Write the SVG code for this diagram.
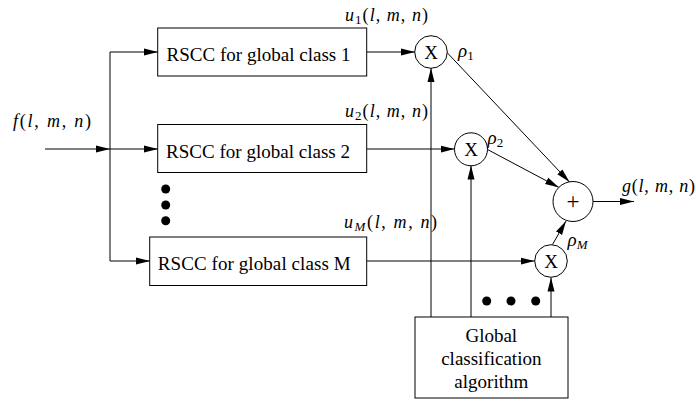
<svg xmlns="http://www.w3.org/2000/svg" width="696" height="401" viewBox="0 0 696 401">
  <style>
    .box { fill: #fff; stroke: #000; stroke-width: 1; }
    .op { fill: #fff; stroke: #000; stroke-width: 1; }
    .wire { fill: none; stroke: #000; stroke-width: 1; }
    .arr { marker-end: url(#head); }
    .lbl { font-family: "Liberation Serif", "Times New Roman", serif; font-size: 19px; fill: #000; }
    .mid { text-anchor: middle; }
    .math { font-family: "Liberation Serif", "Times New Roman", serif; font-size: 18px; fill: #000; }
    .it { font-style: italic; }
    .sub { font-size: 13px; font-style: normal; }
    .subi { font-size: 13px; font-style: italic; }
    .dot { fill: #000; }
  </style>
  <defs>
    <marker id="head" markerUnits="userSpaceOnUse" markerWidth="14" markerHeight="8" refX="14" refY="4" orient="auto">
      <path d="M0,0.5 L14,4 L0,7.5 z" fill="#000"/>
    </marker>
  </defs>

  <rect width="696" height="401" fill="#fff"/>

  <!-- connectors -->
  <g id="connectors">
    <!-- input and distribution bus -->
    <line class="wire arr" x1="45" y1="149" x2="110" y2="149"/>
    <polyline class="wire" points="110,52 110,261"/>
    <line class="wire arr" x1="110" y1="52" x2="158" y2="52"/>
    <line class="wire arr" x1="110" y1="149" x2="158" y2="149"/>
    <line class="wire arr" x1="110" y1="261" x2="150" y2="261"/>
    <!-- RSCC outputs to multipliers -->
    <line class="wire arr" x1="367" y1="52" x2="415" y2="52"/>
    <line class="wire arr" x1="367" y1="149" x2="454.5" y2="149"/>
    <line class="wire arr" x1="367" y1="261" x2="534.5" y2="261"/>
    <!-- classifier weights to multipliers -->
    <line class="wire arr" x1="431" y1="317" x2="431" y2="68"/>
    <line class="wire arr" x1="471" y1="317" x2="471" y2="165.5"/>
    <line class="wire arr" x1="551" y1="317" x2="551" y2="277.5"/>
    <!-- weighted products to the adder -->
    <line class="wire arr" x1="447" y1="52.5" x2="569.5" y2="182"/>
    <line class="wire arr" x1="487.5" y1="149.5" x2="559" y2="187.5"/>
    <line class="wire arr" x1="552.5" y1="244.5" x2="566" y2="221"/>
    <!-- adder output -->
    <line class="wire arr" x1="593" y1="201.5" x2="634" y2="201.5"/>
  </g>

  <!-- RSCC blocks -->
  <g id="rscc1">
    <rect class="box" x="157.7" y="28" width="209" height="48"/>
    <text class="lbl" x="166.5" y="61" textLength="184" lengthAdjust="spacing">RSCC for global class 1</text>
  </g>
  <g id="rscc2">
    <rect class="box" x="157.7" y="124.5" width="209" height="48"/>
    <text class="lbl" x="166" y="157.5" textLength="184" lengthAdjust="spacing">RSCC for global class 2</text>
  </g>
  <g id="rsccM">
    <rect class="box" x="149.7" y="237" width="217" height="48.5"/>
    <text class="lbl" x="157.7" y="270" textLength="193" lengthAdjust="spacing">RSCC for global class M</text>
  </g>

  <!-- vertical ellipsis between blocks -->
  <g id="vdots">
    <circle class="dot" cx="165.7" cy="189" r="4.5"/>
    <circle class="dot" cx="165.7" cy="205" r="4.5"/>
    <circle class="dot" cx="165.7" cy="220.7" r="4.5"/>
  </g>

  <!-- multipliers -->
  <g id="mul1">
    <circle class="op" cx="431" cy="52" r="16.3"/>
    <text class="lbl mid" x="431" y="58.5">X</text>
  </g>
  <g id="mul2">
    <circle class="op" cx="471" cy="149.3" r="16.5"/>
    <text class="lbl mid" x="471" y="156">X</text>
  </g>
  <g id="mulM">
    <circle class="op" cx="551" cy="261" r="16.3"/>
    <text class="lbl mid" x="551" y="267.5">X</text>
  </g>

  <!-- adder -->
  <g id="adder">
    <circle class="op" cx="573" cy="201.5" r="20"/>
    <text class="lbl mid" x="573" y="209" style="font-size:23px">+</text>
  </g>

  <!-- classifier -->
  <g id="classifier">
    <rect class="box" x="415" y="317" width="153" height="81"/>
    <text class="lbl mid" x="491.3" y="341.5">Global</text>
    <text class="lbl mid" x="491.3" y="365">classification</text>
    <text class="lbl mid" x="491.3" y="388">algorithm</text>
  </g>

  <!-- horizontal ellipsis between weight lines -->
  <g id="hdots">
    <circle class="dot" cx="486.7" cy="301" r="4.5"/>
    <circle class="dot" cx="511" cy="301" r="4.5"/>
    <circle class="dot" cx="535.7" cy="301" r="4.5"/>
  </g>

  <!-- signal labels -->
  <g id="labels">
    <text class="math" x="13" y="126.5" textLength="78" lengthAdjust="spacing"><tspan class="it">f</tspan>(<tspan class="it">l</tspan>, <tspan class="it">m</tspan>, <tspan class="it">n</tspan>)</text>
    <text class="math" x="345" y="21" textLength="83" lengthAdjust="spacing"><tspan class="it">u</tspan><tspan class="sub" dy="3">1</tspan><tspan dy="-3">(</tspan><tspan class="it">l</tspan>, <tspan class="it">m</tspan>, <tspan class="it">n</tspan>)</text>
    <text class="math" x="345" y="117" textLength="83" lengthAdjust="spacing"><tspan class="it">u</tspan><tspan class="sub" dy="3">2</tspan><tspan dy="-3">(</tspan><tspan class="it">l</tspan>, <tspan class="it">m</tspan>, <tspan class="it">n</tspan>)</text>
    <text class="math" x="344" y="228" textLength="93" lengthAdjust="spacing"><tspan class="it">u</tspan><tspan class="subi" dy="3">M</tspan><tspan dy="-3">(</tspan><tspan class="it">l</tspan>, <tspan class="it">m</tspan>, <tspan class="it">n</tspan>)</text>
    <text class="math" x="622" y="192" textLength="73" lengthAdjust="spacing"><tspan class="it">g</tspan>(<tspan class="it">l</tspan>, <tspan class="it">m</tspan>, <tspan class="it">n</tspan>)</text>
    <text class="math it" x="458" y="56.5" style="font-size:19px">ρ<tspan class="sub" dy="3">1</tspan></text>
    <text class="math it" x="487.5" y="144" style="font-size:19px">ρ<tspan class="sub" dy="3">2</tspan></text>
    <text class="math it" x="567.5" y="246" style="font-size:19px">ρ<tspan class="subi" dy="3">M</tspan></text>
  </g>
</svg>
